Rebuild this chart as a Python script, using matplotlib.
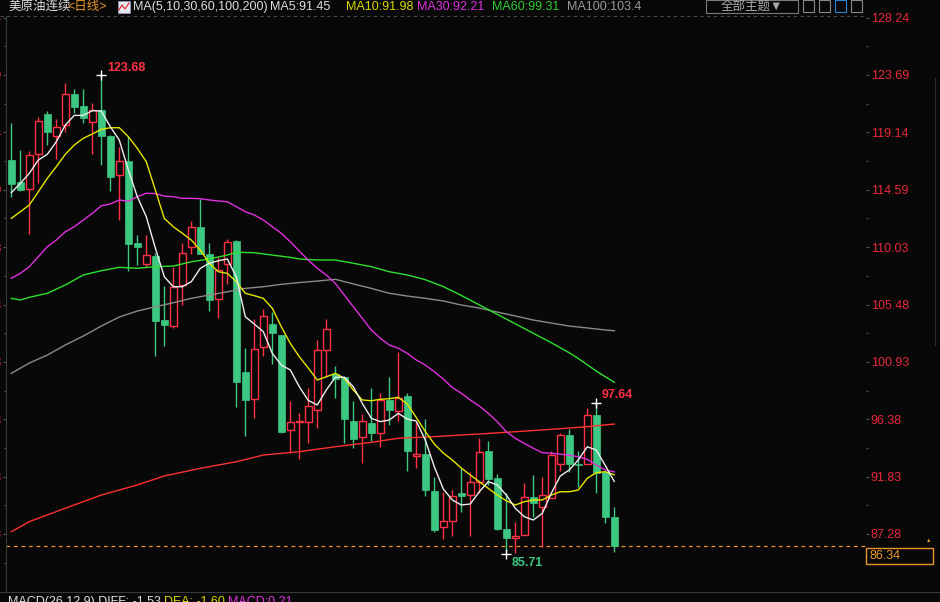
import matplotlib
matplotlib.use("Agg")
import matplotlib.pyplot as plt
from matplotlib.patches import Rectangle
from matplotlib.lines import Line2D

plt.rcParams['font.family'] = ['Liberation Sans', 'Noto Sans CJK SC', 'DejaVu Sans']

# ---- data ----
opens = [116.94, 115.17, 114.61, 117.39, 120.59, 118.87, 119.69, 122.17, 121.22, 119.98,
         120.90, 118.84, 115.77, 116.86, 110.36, 108.73, 109.33, 104.25, 103.80, 107.05,
         110.01, 111.63, 109.48, 105.89, 108.67, 110.51, 100.13, 98.01, 102.09, 103.93,
         103.06, 95.50, 96.14, 96.14, 97.09, 101.85, 99.97, 99.73, 96.24, 94.95,
         96.08, 95.31, 97.91, 97.06, 98.22, 93.49, 93.62, 90.69, 87.86, 88.29,
         90.53, 90.35, 91.38, 93.86, 91.72, 87.70, 86.96, 87.22, 90.21, 89.44,
         90.13, 92.83, 95.13, 92.87, 92.81, 96.74, 92.22, 88.65]
highs = [119.90, 117.73, 117.68, 120.32, 120.82, 120.17, 123.07, 122.57, 122.57, 121.43,
         123.68, 118.90, 117.97, 118.84, 110.99, 110.99, 109.56, 106.95, 108.43, 110.33,
         112.10, 113.85, 110.36, 109.22, 110.67, 110.59, 102.03, 104.33, 105.15, 104.88,
         103.10, 97.83, 96.88, 98.83, 102.66, 104.33, 100.60, 99.80, 97.83, 96.80,
         98.83, 98.44, 99.71, 101.69, 98.46, 96.16, 96.40, 91.80, 90.61, 90.75,
         92.51, 92.20, 94.87, 94.63, 92.01, 90.51, 88.26, 91.30, 91.93, 91.80,
         93.90, 95.31, 95.61, 93.89, 97.30, 97.64, 92.22, 89.44]
lows = [114.03, 114.50, 111.09, 115.14, 118.13, 117.04, 119.18, 120.67, 119.85, 117.39,
        116.54, 114.50, 112.18, 108.16, 108.61, 108.49, 101.42, 102.21, 103.59, 105.46,
        109.48, 109.48, 104.99, 104.43, 107.11, 97.37, 95.08, 96.50, 101.42, 100.76,
        95.27, 93.68, 93.20, 94.47, 95.71, 99.73, 98.06, 94.52, 94.12, 92.93,
        94.68, 94.20, 95.95, 96.26, 92.30, 92.54, 90.32, 87.46, 86.91, 87.15,
        89.05, 87.15, 90.51, 91.19, 87.60, 85.71, 85.75, 87.22, 88.60, 86.27,
        90.13, 92.30, 92.22, 91.03, 92.81, 90.51, 88.18, 85.88]
closes = [115.06, 114.56, 117.31, 120.03, 119.18, 119.53, 122.17, 121.16, 120.29, 120.88,
          118.87, 115.61, 116.86, 110.30, 110.06, 109.39, 104.19, 103.88, 106.87, 109.54,
          111.60, 109.51, 105.86, 108.22, 110.41, 99.36, 97.93, 101.93, 104.54, 103.24,
          95.39, 96.14, 96.24, 97.41, 101.85, 103.51, 99.57, 96.42, 94.84, 96.22,
          95.31, 97.91, 97.11, 98.06, 93.86, 93.62, 90.79, 87.60, 88.31, 90.27,
          90.32, 91.38, 93.78, 91.64, 87.70, 86.96, 87.12, 90.21, 89.71, 90.35,
          93.54, 95.13, 92.85, 92.79, 96.69, 92.09, 88.65, 86.34]

ma5 = [114.35, 115.09, 115.88, 116.94, 117.39, 118.39, 119.71, 120.48, 120.48, 120.85,
       120.82, 119.58, 118.52, 116.15, 114.03, 112.44, 109.96, 107.68, 106.89, 106.89,
       107.29, 108.35, 108.75, 108.95, 109.09, 107.68, 104.51, 103.93, 103.32, 101.61,
       100.68, 100.29, 98.96, 97.87, 97.51, 98.70, 99.71, 99.71, 98.96, 97.64,
       96.46, 96.19, 96.32, 96.85, 96.40, 96.23, 94.73, 92.62, 90.85, 89.98,
       89.58, 89.66, 90.63, 91.43, 91.17, 90.37, 89.32, 88.65, 88.39, 88.92,
       90.51, 91.88, 92.36, 93.15, 94.20, 93.94, 92.71, 91.45]
ma10 = [112.31, 112.84, 113.37, 114.42, 115.49, 116.41, 117.39, 118.13, 118.66, 119.00,
        119.37, 119.50, 119.50, 118.79, 117.87, 116.80, 114.56, 112.31, 111.65, 111.13,
        110.59, 109.80, 108.75, 108.08, 107.95, 107.29, 106.37, 106.18, 105.97, 105.18,
        103.72, 102.40, 101.34, 100.44, 99.49, 99.75, 100.02, 99.63, 98.70, 97.91,
        97.85, 97.96, 98.01, 98.12, 97.59, 96.52, 95.41, 94.42, 93.70, 93.15,
        92.51, 91.96, 91.43, 90.90, 90.37, 89.92, 89.58, 89.84, 89.98, 89.98,
        90.37, 90.63, 90.63, 90.77, 91.70, 92.14, 92.22, 91.98]
ma30 = [107.56, 107.95, 108.48, 109.27, 110.06, 110.59, 111.25, 111.65, 112.18, 112.71,
        113.31, 113.45, 113.77, 113.66, 114.03, 114.30, 114.28, 114.08, 114.03, 113.90,
        113.90, 113.87, 113.77, 113.69, 113.63, 113.24, 112.84, 112.58, 112.18, 111.65,
        111.13, 110.46, 109.72, 109.01, 108.35, 107.82, 107.16, 106.23, 105.30, 104.38,
        103.46, 102.80, 102.27, 102.01, 101.61, 101.08, 100.68, 100.15, 99.57, 98.90,
        98.44, 97.91, 97.43, 96.85, 96.19, 95.39, 94.87, 94.47, 94.08, 93.73,
        93.68, 93.62, 93.52, 93.41, 93.20, 92.75, 92.36, 92.21]
ma60_idx = [0, 1, 2, 4, 6, 8, 10, 12, 14, 16, 18, 20, 22, 24, 25, 27, 29, 31, 32, 34, 36,
            38, 40, 42, 44, 46, 48, 50, 52, 54, 56, 58, 60, 62, 63, 64, 65, 66, 67]
ma60 = [105.97, 105.84, 106.05, 106.37, 107.03, 107.82, 108.16, 108.43, 108.35, 108.48,
        108.53, 108.87, 109.09, 109.40, 109.62, 109.59, 109.40, 109.22, 109.09, 109.01,
        109.01, 108.75, 108.48, 108.08, 107.82, 107.45, 106.90, 106.20, 105.45, 104.70,
        103.95, 103.20, 102.45, 101.65, 101.20, 100.70, 100.20, 99.75, 99.31]
ma100_idx = [0, 2, 4, 6, 8, 10, 12, 14, 16, 18, 20, 22, 24, 26, 28, 30, 32, 34, 36, 38,
             40, 42, 44, 46, 48, 50, 52, 54, 56, 58, 60, 62, 64, 66, 67]
ma100 = [100.02, 100.84, 101.47, 102.27, 102.98, 103.77, 104.49, 104.96, 105.30, 105.62,
         105.97, 106.23, 106.49, 106.76, 106.89, 107.08, 107.22, 107.34, 107.48, 107.11,
         106.76, 106.37, 106.15, 105.97, 105.76, 105.44, 105.20, 104.88, 104.57, 104.25,
         104.01, 103.77, 103.62, 103.46, 103.40]
ma200_idx = [0, 2, 6, 10, 14, 17, 21, 25, 28, 32, 36, 40, 43, 47, 50, 52, 56, 60, 64, 67]
ma200 = [87.46, 88.26, 89.32, 90.37, 91.17, 91.88, 92.49, 93.01, 93.54, 93.81,
         94.20, 94.55, 94.87, 95.00, 95.13, 95.21, 95.39, 95.58, 95.79, 96.00]

price_ticks = [128.24, 123.69, 119.14, 114.59, 110.03, 105.48, 100.93, 96.38, 91.83, 87.28]

# ---- colours ----
BG = '#080808'
UP = '#ff3045'
DOWN = '#3cc882'
ORANGE = '#e8962a'

W, H = 940, 602


def fx(px):
    return px / W


def fy(py):
    return 1 - py / H


fig = plt.figure(figsize=(W / 100, H / 100), dpi=100, facecolor=BG)
ax = fig.add_axes([fx(6), fy(592), fx(866) - fx(6), fy(16) - fy(592)])
ax.set_facecolor(BG)
ax.set_xlim(-0.59, 94.97)
ax.set_ylim(82.68, 128.36)

# candles
for i in range(len(closes)):
    o, h, l, c = opens[i], highs[i], lows[i], closes[i]
    if c >= o:
        ax.vlines(i, l, o, color=UP, lw=1, zorder=3)
        ax.vlines(i, c, h, color=UP, lw=1, zorder=3)
        ax.add_patch(Rectangle((i - 0.36, o), 0.72, max(c - o, 0.06),
                               facecolor=BG, edgecolor=UP, lw=1, zorder=4))
    else:
        ax.vlines(i, l, h, color=DOWN, lw=1, zorder=3)
        ax.add_patch(Rectangle((i - 0.39, c), 0.78, max(o - c, 0.06),
                               facecolor=DOWN, edgecolor=DOWN, lw=0.5, zorder=4))

# moving averages
idx = list(range(len(closes)))
ax.plot(ma200_idx, ma200, color='#ff3030', lw=1, zorder=5)
ax.plot(ma100_idx, ma100, color='#8a8a8a', lw=1, zorder=5)
ax.plot(ma60_idx, ma60, color='#2ee02e', lw=1, zorder=5)
ax.plot(idx, ma30, color='#e030e0', lw=1, zorder=5)
ax.plot(idx, ma10, color='#e6e600', lw=1, zorder=5)
ax.plot(idx, ma5, color='#eeeeee', lw=1, zorder=5)

# high / low markers
hi = highs.index(max(highs))
lo = lows.index(min(lows))
hi2 = 65
for k, val, col, off in [(hi, highs[hi], UP, (6, 7)), (hi2, highs[hi2], UP, (5, 8)),
                         (lo, lows[lo], DOWN, (5, -9))]:
    ax.plot(k, val, marker='+', ms=7, mew=1, color='white', zorder=6)
    ax.annotate(f'{val:.2f}', (k, val), xytext=off, textcoords='offset pixels',
                color=col, fontsize=9, fontweight='bold', va='center', ha='left', zorder=6)

# last price line
ax.axhline(closes[-1], color=ORANGE, lw=0.9, ls=(0, (3, 3)), zorder=2)

# axes styling
for s in ['top', 'bottom', 'right']:
    ax.spines[s].set_visible(False)
ax.spines['left'].set_color('#3a3a3a')
ax.set_xticks([])
ax.set_yticks(price_ticks)
ax.set_yticklabels([f'{t:.2f}' for t in price_ticks])
minor = [(price_ticks[j] + price_ticks[j + 1]) / 2 for j in range(len(price_ticks) - 1)]
minor += [price_ticks[-1] - (price_ticks[0] - price_ticks[1]) / 2]
ax.set_yticks(minor, minor=True)
ax.tick_params(axis='y', which='both', left=True, right=True, labelleft=True, labelright=True,
               colors='#555555', labelcolor='#e8283c', labelsize=9, length=2.5, pad=1, width=0.8)
ax.tick_params(axis='y', which='minor', length=1.5)

# header
fig.add_artist(Line2D([0, fx(866)], [fy(16), fy(16)], color='#4a4a4a', lw=0.8, ls=(0, (3, 3))))
hy = fy(7)
fig.text(fx(8), hy, '美原油连续', color='#dddddd', fontsize=9, va='center')
fig.text(fx(67), hy, '<日线>', color=ORANGE, fontsize=9, va='center')
fig.add_artist(Rectangle((fx(118), fy(13)), fx(12), fy(1) - fy(13), transform=fig.transFigure,
                         facecolor='#e8e8f0', edgecolor='#9090c0', lw=0.6))
fig.add_artist(Line2D([fx(119), fx(122), fx(125), fx(129)], [fy(10), fy(5), fy(9), fy(3)],
                      color='#e02020', lw=0.8))
header = [(133, 'MA(5,10,30,60,100,200)', '#dddddd'),
          (270, 'MA5:91.45', '#dddddd'),
          (346, 'MA10:91.98', '#d8d800'),
          (417, 'MA30:92.21', '#e030e0'),
          (492, 'MA60:99.31', '#30d030'),
          (567, 'MA100:103.4', '#9a9a9a')]
for x0, txt, col in header:
    fig.text(fx(x0), hy, txt, color=col, fontsize=9, va='center')

fig.add_artist(Rectangle((fx(706), fy(13)), fx(92), fy(0) - fy(13), transform=fig.transFigure,
                         facecolor=BG, edgecolor='#7a7a7a', lw=0.8))
fig.text(fx(752), fy(6.5), '全部主题▼', color='#a8a8a8', fontsize=9, va='center', ha='center')
for x0, col in [(803, '#8a8a8a'), (819, '#8a8a8a'), (835, '#2a86d8'), (851, '#8a8a8a')]:
    fig.add_artist(Rectangle((fx(x0), fy(12)), fx(11), fy(0) - fy(12), transform=fig.transFigure,
                             facecolor=BG, edgecolor=col, lw=0.8))

# last price box
fig.add_artist(Rectangle((fx(866), fy(564)), fx(67), fy(548) - fy(564), transform=fig.transFigure,
                         facecolor=BG, edgecolor=ORANGE, lw=1))
fig.text(fx(870), fy(556), f'{closes[-1]:.2f}', color=ORANGE, fontsize=9, va='center')
fig.text(fx(929), fy(541), '▲', color=ORANGE, fontsize=4, va='center', ha='center')

# right strip
fig.add_artist(Line2D([fx(935), fx(935)], [fy(78), fy(345)], color='#2e2e2e', lw=0.8))

# MACD panel header
fig.add_artist(Line2D([0, 1], [fy(592), fy(592)], color='#3a3a3a', lw=0.8))
fig.text(fx(8), fy(596), 'MACD(26,12,9) DIFF: -1.53', color='#dddddd', fontsize=9, va='top')
fig.text(fx(164), fy(596), 'DEA: -1.60', color='#d8d800', fontsize=9, va='top')
fig.text(fx(228), fy(596), 'MACD:0.21', color='#e030e0', fontsize=9, va='top')

fig.savefig('out.png', dpi=100, facecolor=BG)
